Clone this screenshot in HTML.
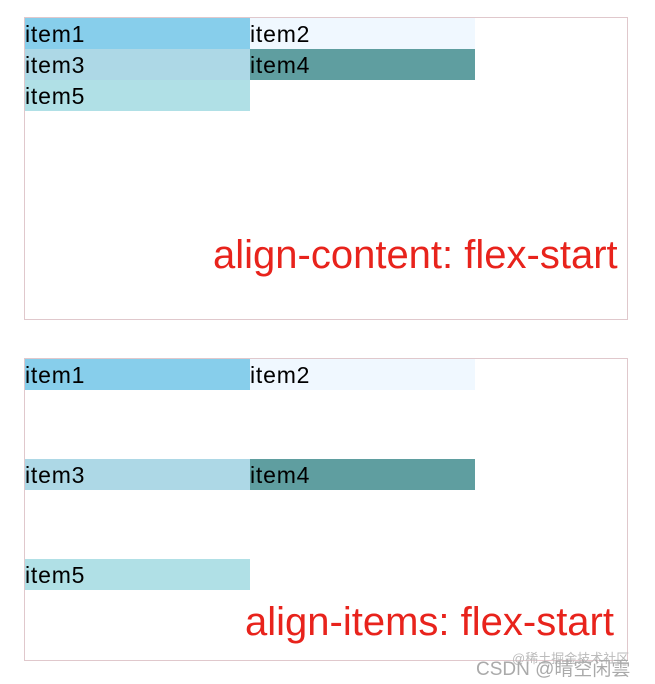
<!DOCTYPE html>
<html><head><meta charset="utf-8"><style>
body{margin:0;width:655px;height:684px;background:#fff;position:relative;overflow:hidden;font-family:"Liberation Sans","Noto Sans CJK SC",sans-serif;}
.box{position:absolute;left:24px;width:602px;height:301px;border:1px solid #e0c8cc;}
.it{position:absolute;width:225px;height:31px;font-size:23px;line-height:33px;color:#000;letter-spacing:0.8px;overflow:hidden}
.a{background:#87CEEB}.b{background:#F0F8FF}.c{background:#ADD8E6}.d{background:#5F9EA0}.e{background:#B0E0E6}
.lab{position:absolute;color:#e8231c;font-size:40px;white-space:nowrap}
.wm{position:absolute;color:#aaa;white-space:nowrap}
</style></head><body>
<div class="box" style="top:17px">
<div class="it a" style="left:0;top:0">item1</div>
<div class="it b" style="left:225px;top:0">item2</div>
<div class="it c" style="left:0;top:31px">item3</div>
<div class="it d" style="left:225px;top:31px">item4</div>
<div class="it e" style="left:0;top:62px">item5</div>
</div>
<div class="lab" style="left:213px;top:233px">align-content: flex-start</div>
<div class="box" style="top:358px">
<div class="it a" style="left:0;top:0">item1</div>
<div class="it b" style="left:225px;top:0">item2</div>
<div class="it c" style="left:0;top:100px">item3</div>
<div class="it d" style="left:225px;top:100px">item4</div>
<div class="it e" style="left:0;top:200px">item5</div>
</div>
<div class="lab" style="left:245px;top:600px">align-items: flex-start</div>
<div class="wm" style="left:512px;top:648px;font-size:13px;color:#bbb">@稀土掘金技术社区</div>
<div class="wm" style="left:476px;top:654px;font-size:19px">CSDN @晴空闲雲</div>
</body></html>
